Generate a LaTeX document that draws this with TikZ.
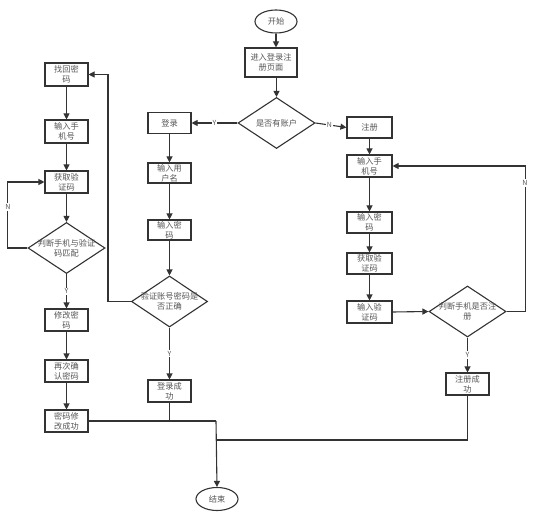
\documentclass[tikz,border=0pt]{standalone}
\usepackage{fontspec}
\newfontfamily\cjk{Noto Sans CJK SC}
\usetikzlibrary{arrows.meta,shapes.geometric}
\definecolor{linec}{HTML}{333333}
\definecolor{txtc}{HTML}{555555}
\begin{document}
\begin{tikzpicture}[x=1pt,y=-1pt,
  every node/.style={font=\cjk\fontsize{8.2}{10}\selectfont, text=txtc},
  box/.style={draw=linec, line width=1.1pt, minimum width=43pt, minimum height=22pt, inner sep=1pt, align=center},
  dia/.style={diamond, draw=linec, line width=1.1pt, inner sep=0pt, minimum width=77pt, minimum height=51pt},
  dtext/.style={align=center, inner sep=0pt},
  oval/.style={ellipse, draw=linec, line width=1.1pt, minimum width=42pt, minimum height=23pt, inner sep=0pt},
  lbl/.style={fill=white, inner sep=1pt, font=\cjk\fontsize{7}{8}\selectfont},
  conn/.style={draw=linec, line width=1.1pt},
  arr/.style={conn, -{Triangle[length=6pt,width=6pt]}}]
\useasboundingbox (0,0) rectangle (545,526);
\fill[white] (0,0) rectangle (545,526);
% middle column
\node[oval] (start) at (276,21.5) {开始};
\node[box, minimum width=52pt, minimum height=29pt] (page) at (271,62.5) {进入登录注\\册页面};
\node[dia] (d0) at (276.5,123) {};
\node[dtext] at (d0) {是否有账户};
\node[box, minimum height=21pt] (login) at (169.5,123) {登录};
\node[box, minimum height=20pt] (user) at (169.5,173) {输入用\\户名};
\node[box, minimum height=20pt] (pwd) at (169.5,230) {输入密\\码};
\node[dia, minimum width=76pt] (d2) at (169.5,301.5) {};
\node[dtext] at (d2) {验证账号密码是\\否正确};
\node[box] (loginok) at (169.5,391) {登录成\\功};
\node[oval] (end) at (217,499) {结束};
% left column
\node[box, minimum height=23pt] (find) at (66.5,74.5) {找回密\\码};
\node[box, minimum height=23pt] (phone1) at (66.5,131.5) {输入手\\机号};
\node[box] (code1) at (66.5,182) {获取验\\证码};
\node[dia] (d1) at (66.5,248) {};
\node[dtext] at (d1) {判断手机与验证\\码匹配};
\node[box] (modify) at (66.5,320) {修改密\\码};
\node[box] (again) at (66.5,371) {再次确\\认密码};
\node[box] (modok) at (66.5,421) {密码修\\改成功};
% right column
\node[box, minimum width=45pt, minimum height=21pt] (reg) at (369.5,127.5) {注册};
\node[box, minimum width=45pt] (phone2) at (369.5,166) {输入手\\机号};
\node[box, minimum width=45pt, minimum height=21pt] (pwd2) at (369.5,222.5) {输入密\\码};
\node[box, minimum width=45pt, minimum height=21pt] (code2) at (369.5,263.5) {获取验\\证码};
\node[box, minimum width=45pt] (vcode) at (369.5,312) {输入验\\证码};
\node[dia] (d3) at (467.5,311.5) {};
\node[dtext] at (d3) {判断手机是否注\\册};
\node[box] (regok) at (467.5,384) {注册成\\功};
% connectors middle
\draw[arr] (start.south) -- (start.south |- page.north);
\draw[arr] (page.south -| d0.north) -- (d0.north);
\draw[arr] (d0.west) -- node[lbl]{Y} (login.east);
\draw[arr] (d0.east) -- node[lbl, pos=0.45]{N} (reg.west);
\draw[arr] (login) -- (user);
\draw[arr] (user) -- (pwd);
\draw[arr] (pwd.south) -- (d2.north);
\draw[arr] (d2.south) -- node[lbl, pos=0.5]{Y} (loginok.north);
\draw[arr] (d2.west) -- ++(-23,0) |- (find.east);
% left
\draw[arr] (find) -- (phone1);
\draw[arr] (phone1) -- (code1);
\draw[arr] (code1.south) -- (d1.north);
\draw[arr] (d1.west) -- ++(-20,0) |- (code1.west);
\node[lbl] at (8,207) {N};
\draw[arr] (d1.south) -- node[lbl, pos=0.5]{Y} (modify.north);
\draw[arr] (modify) -- (again);
\draw[arr] (again) -- (modok);
% right
\draw[arr] (reg) -- (phone2);
\draw[arr] (phone2) -- (pwd2);
\draw[arr] (pwd2) -- (code2);
\draw[arr] (code2) -- (vcode);
\draw[arr] (vcode.east) -- (d3.west);
\draw[arr] (d3.east) -- ++(19,0) |- (phone2.east);
\node[lbl] at (525,183) {N};
\draw[arr] (d3.south) -- node[lbl, pos=0.5]{Y} (regok.north);
% merge to end
\coordinate (j1) at (216,421);
\coordinate (j2) at (216,440);
\draw[conn] (modok.east) -- (j1);
\draw[conn] (loginok.south) -- (loginok.south |- j1);
\draw[conn] (regok.south) |- (j2);
\draw[arr] (j1) -- (end.north);
\end{tikzpicture}
\end{document}
